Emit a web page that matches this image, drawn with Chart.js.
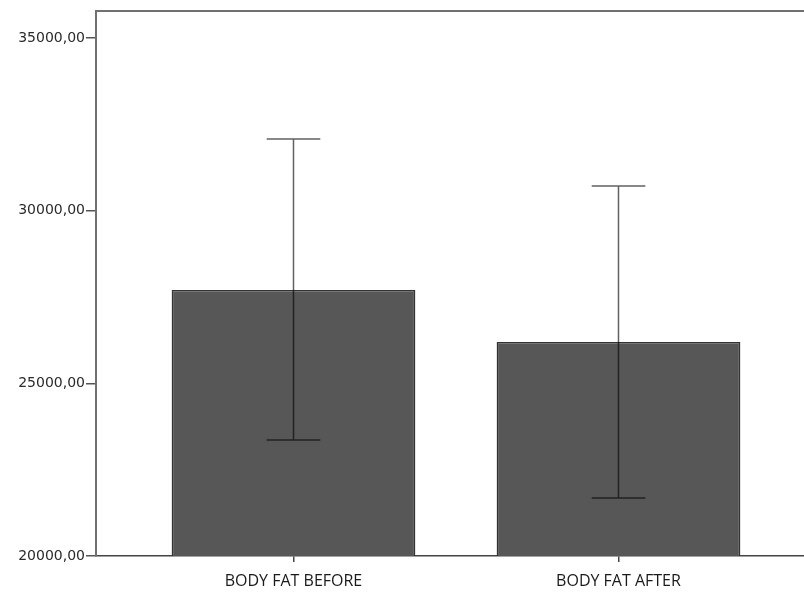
<!DOCTYPE html>
<html>
<head>
<meta charset="utf-8">
<script src="https://cdn.jsdelivr.net/npm/chart.js@4/dist/chart.umd.min.js"></script>
<style>
    html, body { margin: 0; padding: 0; background: #fff; overflow: hidden; }
    #wrap { width: 804px; height: 593px; }
</style>
</head>
<body>
<div id="wrap"><canvas id="barChart"></canvas></div>
<script>
let categories = ['BODY FAT BEFORE', 'BODY FAT AFTER'];
let means = [27703, 26197];
let errHigh = [32077, 30715];
let errLow = [23359, 21680];
let yTicks = [20000, 25000, 30000, 35000];

let errorBars = {
    id: 'errorBars',
    afterDatasetsDraw(chart) {
        let ctx = chart.ctx;
        let yScale = chart.scales.y;
        let meta = chart.getDatasetMeta(0);
        ctx.save();
        ctx.strokeStyle = 'rgba(0, 0, 0, 0.62)';
        ctx.lineWidth = 1.5;
        meta.data.forEach((bar, i) => {
            let x = bar.x;
            let half = bar.width * 0.11;
            let top = yScale.getPixelForValue(errHigh[i]);
            let bottom = yScale.getPixelForValue(errLow[i]);
            ctx.beginPath();
            ctx.moveTo(x, top);
            ctx.lineTo(x, bottom);
            ctx.moveTo(x - half, top);
            ctx.lineTo(x + half, top);
            ctx.moveTo(x - half, bottom);
            ctx.lineTo(x + half, bottom);
            ctx.stroke();
        });
        ctx.restore();
    }
};

let ctx = document.getElementById('barChart').getContext('2d');

window.bodyFatBar = new Chart(ctx, {
    type: 'bar',
    data: {
        datasets: [{
            data: means.map((v, i) => ({ x: i, y: v })),
            xAxisID: 'x',
            backgroundColor: '#575757',
            borderColor: '#333333',
            borderWidth: 1.5,
            barPercentage: 0.75,
            categoryPercentage: 1
        }]
    },
    options: {
        responsive: true,
        maintainAspectRatio: false,
        animation: false,
        layout: { padding: { top: 11, right: 0, left: 0, bottom: 0 } },
        plugins: {
            legend: { display: false },
            tooltip: { enabled: false }
        },
        scales: {
            x: {
                type: 'linear',
                position: 'bottom',
                offset: false,
                min: -0.6077,
                max: 1.5708,
                afterBuildTicks: scale => {
                    scale.ticks = categories.map((c, i) => ({ value: i }));
                },
                afterFit: scale => { scale.height = 37; },
                ticks: {
                    callback: v => categories[v],
                    color: '#1a1a1a',
                    font: { family: 'Open Sans', size: 16 },
                    padding: 10,
                    maxRotation: 0
                },
                grid: { offset: false, drawOnChartArea: false, drawTicks: true, tickLength: 6, color: '#444', lineWidth: 1.5 },
                border: { display: true, color: '#444', width: 1.5 }
            },
            xTop: {
                type: 'linear',
                position: 'top',
                offset: false,
                min: 0,
                max: 1,
                afterFit: scale => { scale.height = 0; },
                ticks: { display: false },
                grid: { display: false },
                border: { display: true, color: '#707070', width: 2 }
            },
            y: {
                min: 20000,
                max: 35780,
                afterBuildTicks: scale => {
                    scale.ticks = yTicks.map(v => ({ value: v }));
                },
                afterFit: scale => { scale.width = 96; },
                ticks: {
                    callback: v => v.toFixed(2).replace('.', ','),
                    color: '#2a2a2a',
                    font: { family: 'DejaVu Sans', size: 14 },
                    padding: 1
                },
                grid: { drawOnChartArea: false, drawTicks: true, tickLength: 10, color: '#555', lineWidth: 1.5 },
                border: { display: true, color: '#707070', width: 2 }
            }
        }
    },
    plugins: [errorBars]
});
</script>
</body>
</html>
